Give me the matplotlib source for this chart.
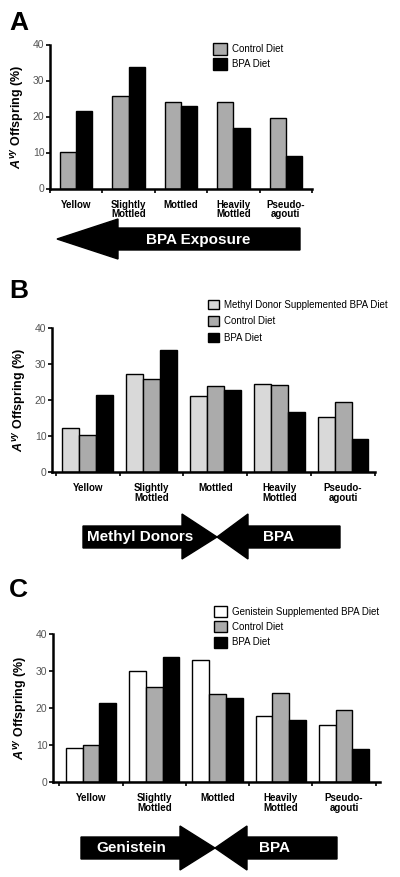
import matplotlib
matplotlib.use("Agg")
import matplotlib.pyplot as plt
from matplotlib.patches import Patch, Polygon
import numpy as np

plt.rcParams['font.family'] = ['Liberation Sans', 'DejaVu Sans']
plt.rcParams['mathtext.fontset'] = 'custom'
plt.rcParams['mathtext.it'] = 'Liberation Sans:italic:bold'
plt.rcParams['mathtext.rm'] = 'Liberation Sans:bold'

categories = ['Yellow', 'Slightly\nMottled', 'Mottled', 'Heavily\nMottled', 'Pseudo-\nagouti']
control = [10.2, 25.8, 23.9, 24.1, 19.5]
bpa = [21.5, 33.8, 22.8, 16.8, 9.1]
methyl = [12.3, 27.2, 21.2, 24.5, 15.4]
genistein = [9.2, 30.0, 33.0, 18.0, 15.5]

yticks = [0, 10, 20, 30, 40]
W, H = 400, 877

C_CONTROL = '#ababab'
C_METHYL = '#d9d9d9'
C_GEN = '#ffffff'
C_BPA = '#000000'

fig = plt.figure(figsize=(W / 100, H / 100), dpi=100)


def frac(x, y):
    # pixel (from top-left) -> figure fraction
    return x / W, 1 - y / H


def make_axes(x0, x1, y0, y40):
    l, b = frac(x0, y0)
    r, t = frac(x1, y40)
    ax = fig.add_axes([l, b, r - l, t - b])
    for s in ['top', 'right']:
        ax.spines[s].set_visible(False)
    for s in ['left', 'bottom']:
        ax.spines[s].set_linewidth(1.8)
    ax.set_ylim(0, 40)
    ax.set_yticks(yticks)
    ax.tick_params(axis='y', length=3, width=1.2, labelsize=7.5, labelcolor='#555555', pad=1)
    n = len(categories)
    ax.set_xticks(np.arange(n + 1) - 0.5)
    ax.set_xticklabels([])
    ax.set_xticks(np.arange(n), minor=True)
    ax.set_xticklabels(categories, minor=True, fontsize=7, fontweight='bold',
                       linespacing=0.95)
    ax.tick_params(axis='x', which='major', length=3, width=1.2)
    ax.tick_params(axis='x', which='minor', length=0, pad=8)
    ax.set_ylabel(r'$A^{vy}$ Offspring (%)', fontsize=9, fontweight='bold', labelpad=5)
    return ax


def legend(ax, handles, x, y, size, spacing):
    ax.legend(handles=handles, loc='upper left', bbox_to_anchor=frac(x, y),
              bbox_transform=fig.transFigure, frameon=False, fontsize=7,
              handlelength=size, handleheight=size, labelspacing=spacing,
              handletextpad=0.5, borderpad=0, borderaxespad=0)


def arrow(pts):
    poly = Polygon([frac(px, py) for px, py in pts], closed=True,
                   transform=fig.transFigure, facecolor='black', edgecolor='black')
    fig.add_artist(poly)


def label(x, y, s, size=11):
    fx, fy = frac(x, y)
    fig.text(fx, fy, s, color='white', fontsize=size, fontweight='bold',
             ha='center', va='center')


x = np.arange(len(categories))
ekw = dict(edgecolor='black', linewidth=1.0)

# ---- panel A
axA = make_axes(50, 312, 188.5, 44.5)
axA.set_xlim(-0.5, 4.5)
w = 0.31
axA.bar(x - w / 2, control, w, color=C_CONTROL, **ekw)
axA.bar(x + w / 2, bpa, w, color=C_BPA, **ekw)
legend(axA, [Patch(facecolor=C_CONTROL, edgecolor='black', label='Control Diet'),
             Patch(facecolor=C_BPA, edgecolor='black', label='BPA Diet')],
       213, 43, 1.45, 0.4)
fig.text(*frac(9, 30), 'A', fontsize=19, fontweight='bold')
arrow([(57, 239), (118, 219), (118, 228), (300, 228), (300, 250), (118, 250), (118, 259)])
label(198, 240, 'BPA Exposure')

# ---- panel B
axB = make_axes(52, 375, 472.3, 327.7)
axB.set_xlim(-0.56, 4.5)
w = 0.265
axB.bar(x - w, methyl, w, color=C_METHYL, **ekw)
axB.bar(x, control, w, color=C_CONTROL, **ekw)
axB.bar(x + w, bpa, w, color=C_BPA, **ekw)
legend(axB, [Patch(facecolor=C_METHYL, edgecolor='black', label='Methyl Donor Supplemented BPA Diet'),
             Patch(facecolor=C_CONTROL, edgecolor='black', label='Control Diet'),
             Patch(facecolor=C_BPA, edgecolor='black', label='BPA Diet')],
       208, 300, 1.1, 0.65)
fig.text(*frac(9, 298), 'B', fontsize=19, fontweight='bold')
arrow([(83, 526), (182, 526), (182, 514), (217, 537), (182, 559), (182, 548), (83, 548)])
arrow([(340, 526), (248, 526), (248, 514), (217, 537), (248, 559), (248, 548), (340, 548)])
label(140, 537, 'Methyl Donors')
label(278, 537, 'BPA')

# ---- panel C
axC = make_axes(53, 380, 782.3, 634.3)
axC.set_xlim(-0.6, 4.57)
axC.bar(x - w, genistein, w, color=C_GEN, **ekw)
axC.bar(x, control, w, color=C_CONTROL, **ekw)
axC.bar(x + w, bpa, w, color=C_BPA, **ekw)
legend(axC, [Patch(facecolor=C_GEN, edgecolor='black', label='Genistein Supplemented BPA Diet'),
             Patch(facecolor=C_CONTROL, edgecolor='black', label='Control Diet'),
             Patch(facecolor=C_BPA, edgecolor='black', label='BPA Diet')],
       214, 606, 1.3, 0.5)
fig.text(*frac(9, 597), 'C', fontsize=19, fontweight='bold')
arrow([(81, 837), (180, 837), (180, 826), (215, 848), (180, 870), (180, 859), (81, 859)])
arrow([(337, 837), (247, 837), (247, 826), (215, 848), (247, 870), (247, 859), (337, 859)])
label(131, 848, 'Genistein')
label(275, 848, 'BPA')

fig.savefig('out.png', dpi=100)
